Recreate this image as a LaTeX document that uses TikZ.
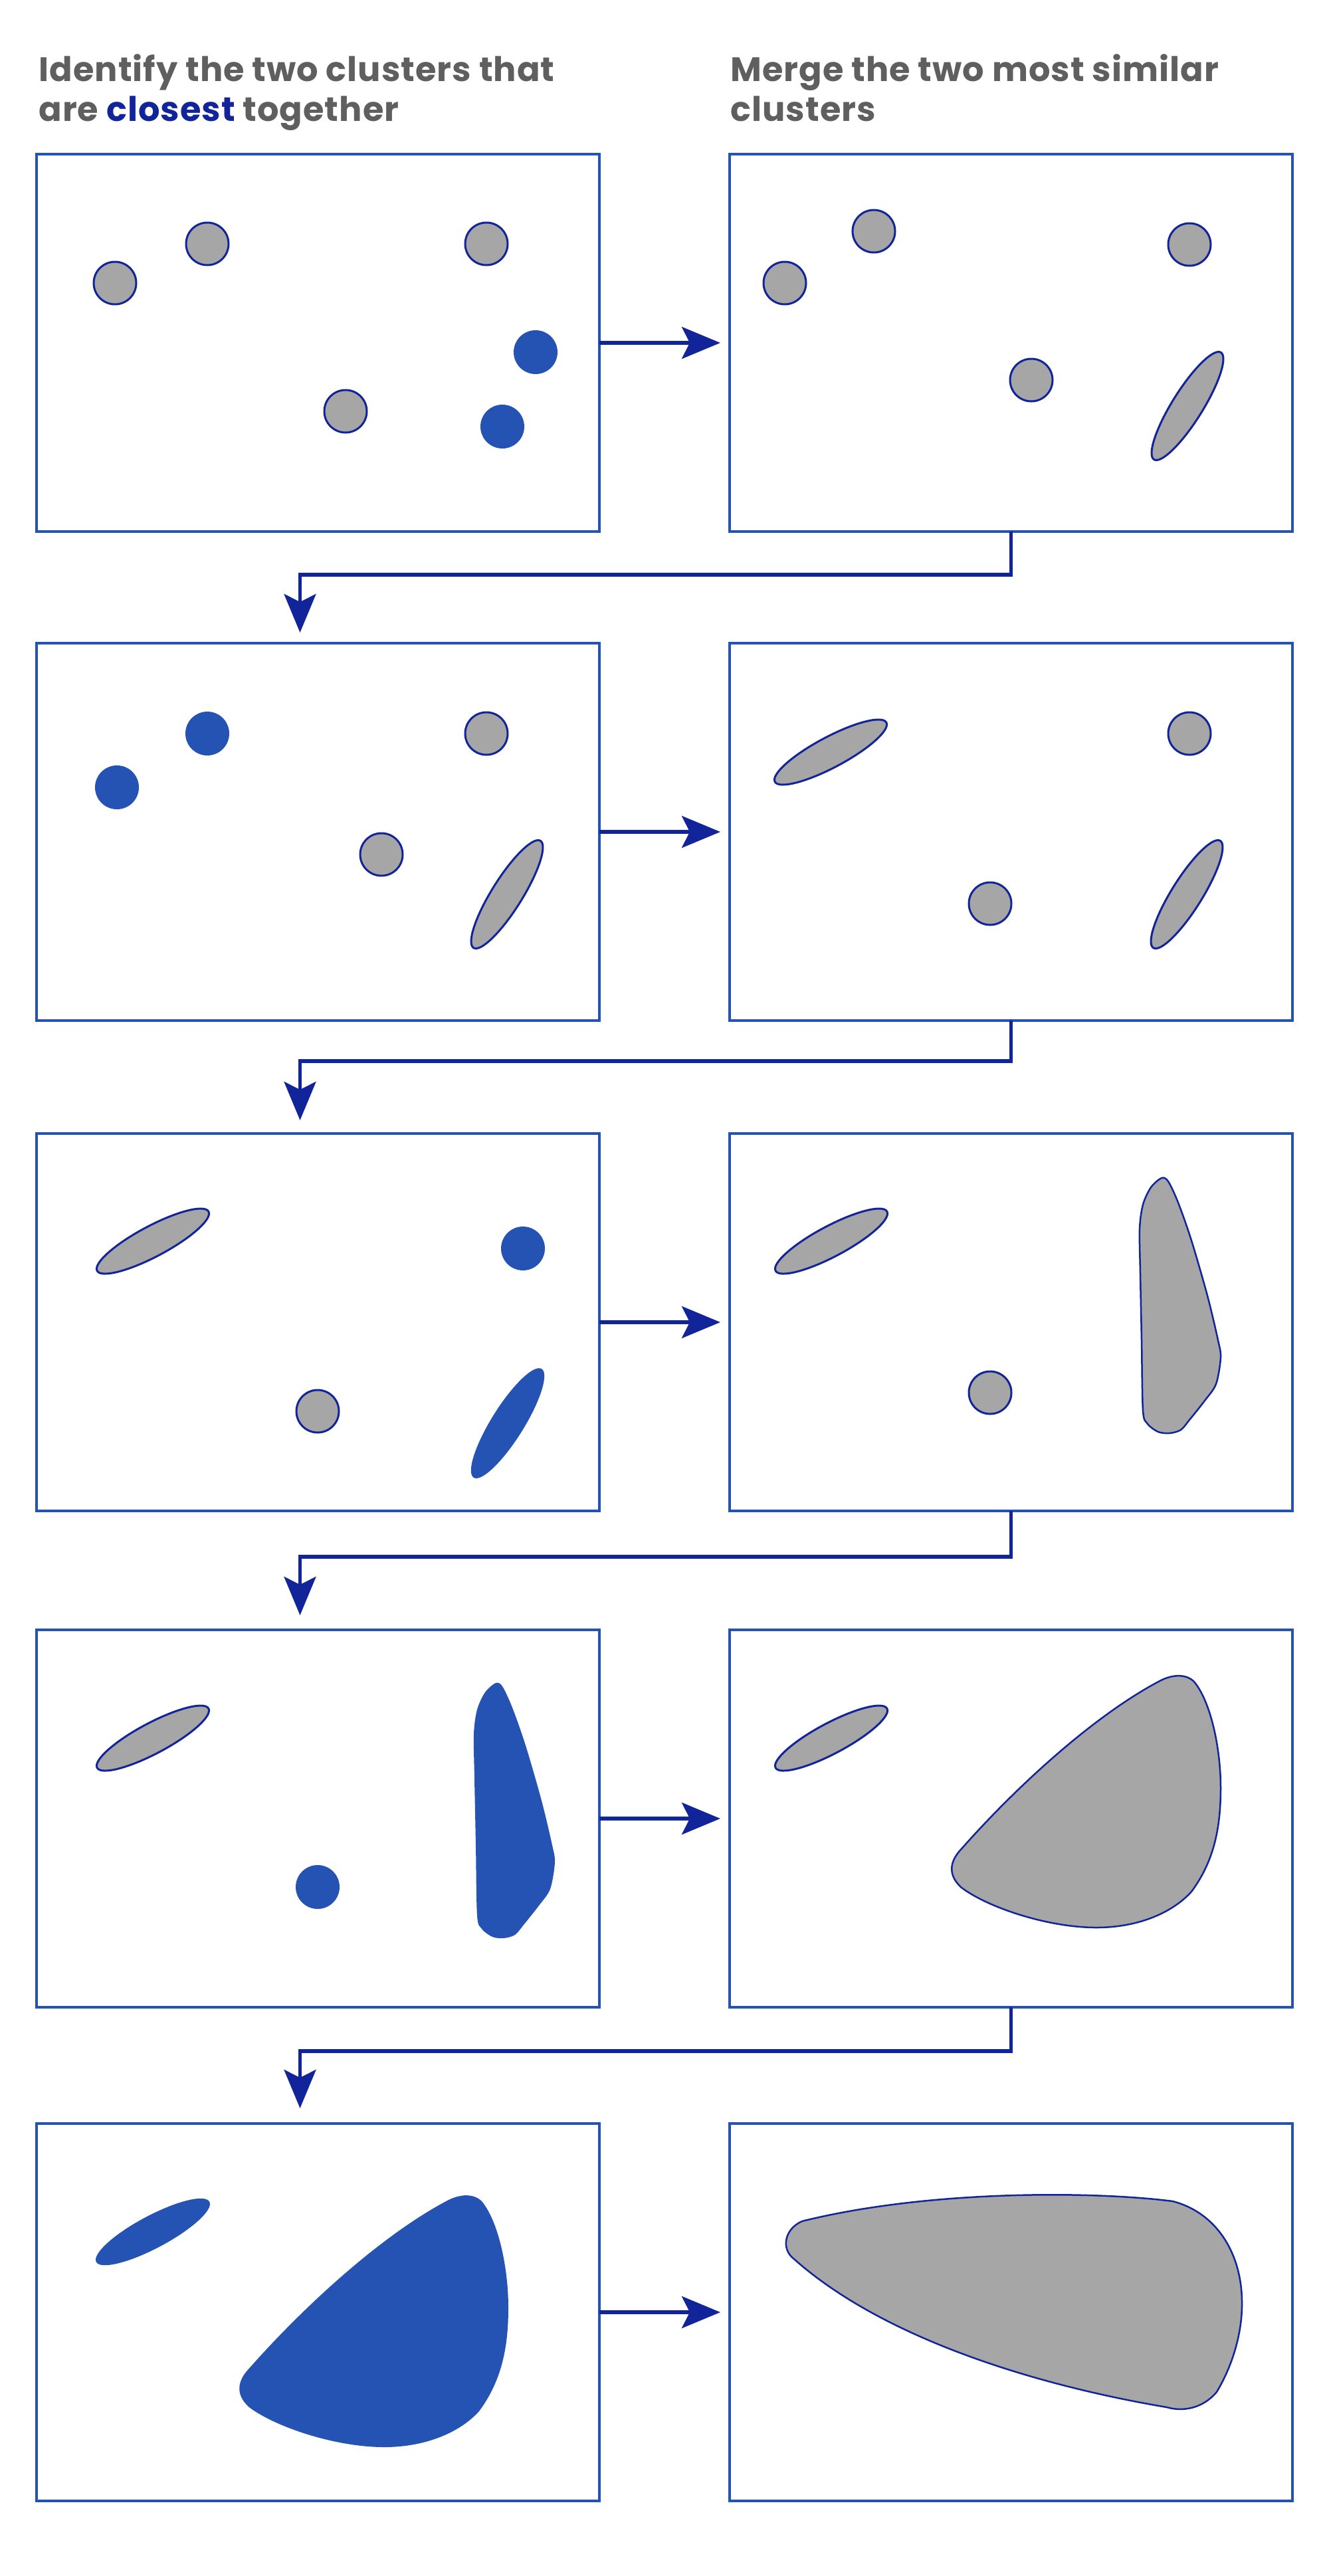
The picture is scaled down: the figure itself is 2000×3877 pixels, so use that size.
\documentclass[tikz,border=0pt]{standalone}
\usepackage{fontspec}
\setmainfont{Poppins}
\usepackage{tikz}
\usetikzlibrary{positioning, arrows.meta, shapes.geometric}
\definecolor{boxblue}{HTML}{2453B3}
\definecolor{arrownavy}{HTML}{12249A}
\definecolor{clustergray}{HTML}{A6A6A6}
\definecolor{titlegray}{HTML}{5F5F5F}
\tikzset{
        panel/.style={draw=boxblue, line width=3.5pt, minimum width=847pt, minimum height=568pt, inner sep=0pt, outer sep=0pt}, % one frame
        gray dot/.style={circle, fill=clustergray, draw=arrownavy, line width=3pt, minimum size=64pt, inner sep=0pt},
        blue dot/.style={circle, fill=boxblue, minimum size=66pt, inner sep=0pt},
        title/.style={anchor=base west, align=left, text=titlegray, font=\fontsize{51}{60}\selectfont\bfseries\addfontfeatures{LetterSpace=2}},
    }
\tikzset{
      gray oval/.style={
		ellipse, fill=clustergray, draw=arrownavy, line width=3pt,
		minimum width=190pt, minimum height=46pt, inner sep=0pt,
		rotate=#1,
	  },
      blue oval/.style={
		ellipse, fill=boxblue,
		minimum width=193pt, minimum height=49pt, inner sep=0pt,
		rotate=#1,
	  },
  		gray blob/.style={fill=clustergray, draw=arrownavy, line width=2.5pt},
  		blue blob/.style={fill=boxblue},
  		flow/.style={draw=arrownavy, line width=5.3pt, -{Stealth[length=58pt, width=48pt, inset=12pt]}},
  		blob a/.pic={
    	\path[#1] plot[smooth cycle, tension=0.5] coordinates {(0,0) (-16,14) (-28,40) (-33,77) (-32,144) (-30,244) (-28,350) (-21,370) (-5,382) (12,384) (29,379) (42,364) (65,335) (82,310) (89,270) (85,244) (69,177) (45,94) (25,37) (10,5)};
      },
  		blob b/.pic={
    	\path[#1] (-334,266) .. controls (-250,170) and (-130,60) .. (-30,8)
    	  .. controls (-12,-1) and (8,-2) .. (20,10)
    	  .. controls (45,40) and (60,110) .. (60,170)
    	  .. controls (60,230) and (50,280) .. (16,326)
    	  .. controls (-10,355) and (-60,380) .. (-127,380)
    	  .. controls (-200,380) and (-290,350) .. (-330,320)
    	  .. controls (-350,302) and (-348,283) .. cycle;
      },
  	}
\begin{document}
\begin{tikzpicture}[x=1pt, y=-1pt]
    \useasboundingbox (0,0) rectangle (2000,3877);
    % titles
    \node [title] (lefttitle) at (55,182) {Identify the two clusters that\\are \textcolor{arrownavy}{closest} together};
    \node [title] (righttitle) at (1096,182) {Merge the two most similar\\clusters};
    % frames
    \node [panel] (r1l) at (478.5,516) {};
    \node [panel, right=196pt of r1l] (r1r) {};
    \node [panel, below=168pt of r1l] (r2l) {};
    \node [panel, right=196pt of r2l] (r2r) {};
    \node [panel, below=170pt of r2l] (r3l) {};
    \node [panel, right=196pt of r3l] (r3r) {};
    \node [panel, below=179pt of r3l] (r4l) {};
    \node [panel, right=196pt of r4l] (r4r) {};
    \node [panel, below=175pt of r4l] (r5l) {};
    \node [panel, right=196pt of r5l] (r5r) {};
    % row 1
    \node [gray dot] (a1) at (173,426) {};
    \node [gray dot] (a2) at (312,367) {};
    \node [gray dot] (a3) at (732,367) {};
    \node [gray dot] (a4) at (520,619) {};
    \node [blue dot] (a5) at (806,530) {};
    \node [blue dot] (a6) at (756,642) {};
    \node [gray dot] (b1) at (1181,426) {};
    \node [gray dot] (b2) at (1315,348) {};
    \node [gray dot] (b3) at (1790,368) {};
    \node [gray dot] (b4) at (1552,572) {};
    \node [gray oval=58] (b5) at (1787,611) {};
    % row 2
    \node [blue dot] (c1) at (312,1104) {};
    \node [blue dot] (c2) at (176,1185) {};
    \node [gray dot] (c3) at (732,1104) {};
    \node [gray dot] (c4) at (574,1286) {};
    \node [gray oval=58] (c5) at (763,1346) {};
    \node [gray oval=28] (d1) at (1250,1132) {};
    \node [gray dot] (d2) at (1790,1104) {};
    \node [gray dot] (d3) at (1490,1360) {};
    \node [gray oval=58] (d4) at (1786,1346) {};
    % row 3
    \node [gray oval=28] (e1) at (230,1868) {};
    \node [blue dot] (e2) at (787,1879) {};
    \node [gray dot] (e3) at (478,2124) {};
    \node [blue oval=58] (e4) at (764,2142) {};
    \node [gray oval=28] (f1) at (1251,1868) {};
    \node [gray dot] (f2) at (1490,2096) {};
    \pic at (1748,1773) {blob a=gray blob};
    % row 4
    \node [gray oval=28] (g1) at (230,2616) {};
    \node [blue dot] (g2) at (478,2840) {};
    \pic at (746,2533) {blob a=blue blob};
    \node [gray oval=28] (h1) at (1251,2616) {};
    \pic at (1777,2521) {blob b=gray blob};
    % row 5
    \node [blue oval=28] (i1) at (230,3359) {};
    \pic at (705,3303) {blob b=blue blob};
    \draw [gray blob] (1195,3400) .. controls (1330,3520) and (1560,3590) .. (1756,3623)
        .. controls (1780,3630) and (1810,3625) .. (1831,3600)
        .. controls (1855,3560) and (1870,3510) .. (1869,3463)
        .. controls (1868,3390) and (1830,3330) .. (1765,3313)
        .. controls (1650,3298) and (1400,3295) .. (1207,3343)
        .. controls (1180,3355) and (1175,3385) .. cycle;
    % arrows
    \draw [flow, shorten >=14pt] (r1l.east) -- (r1r.west);
    \draw [flow, shorten >=14pt] (r2l.east) -- (r2r.west);
    \draw [flow, shorten >=14pt] (r3l.east) -- (r3r.west);
    \draw [flow, shorten >=14pt] (r4l.east) -- (r4r.west);
    \draw [flow, shorten >=14pt] (r5l.east) -- (r5r.west);
    \draw [flow, shorten >=16pt] (r1r.south) -- ++(0,65) -| ([xshift=-27pt]r2l.north);
    \draw [flow, shorten >=20pt] (r2r.south) -- ++(0,61) -| ([xshift=-27pt]r3l.north);
    \draw [flow, shorten >=22pt] (r3r.south) -- ++(0,69) -| ([xshift=-27pt]r4l.north);
    \draw [flow, shorten >=23pt] (r4r.south) -- ++(0,66) -| ([xshift=-27pt]r5l.north);
\end{tikzpicture}
\end{document}
